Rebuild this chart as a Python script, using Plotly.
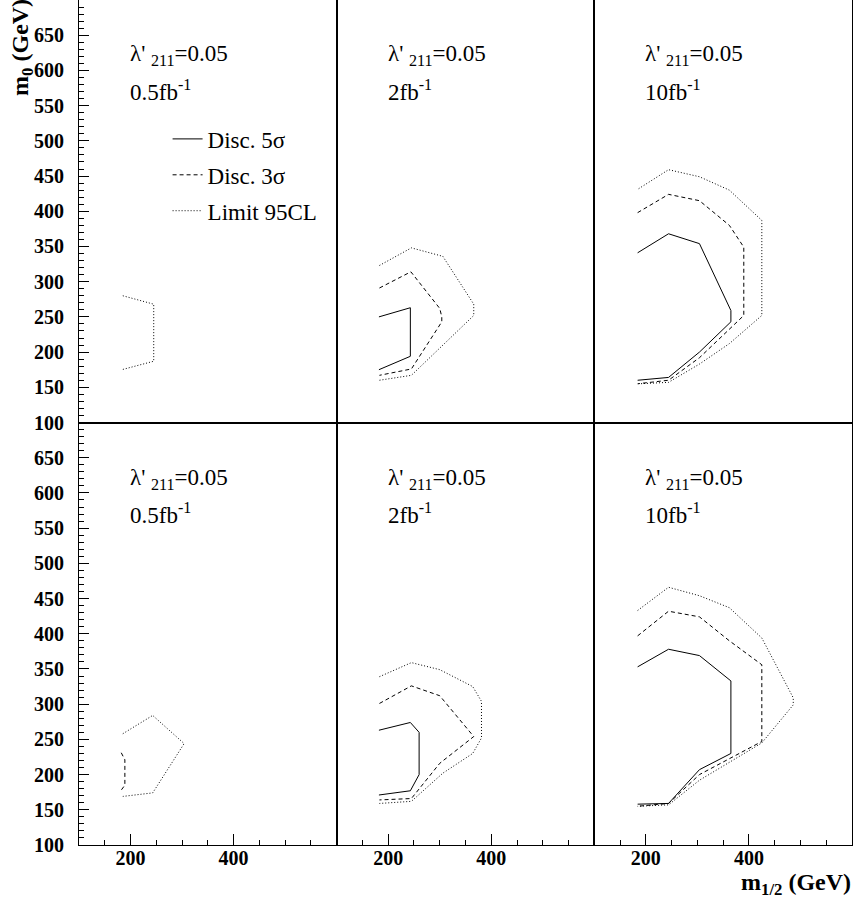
import plotly.graph_objects as go
from plotly.subplots import make_subplots

# ---------------- data (m_1/2, m_0) in GeV ----------------
# top row
t1_lim_x = [185, 245, 245, 183]
t1_lim_y = [280, 268, 187, 175]

t2_5s_x = [182, 243, 243, 182]
t2_5s_y = [250, 263, 194, 175]
t2_3s_x = [183, 244, 300, 304, 304, 245, 183]
t2_3s_y = [291, 314, 262, 250, 243, 176, 167]
t2_lim_x = [183, 245, 306, 366, 366, 245, 183]
t2_lim_y = [323, 348, 336, 268, 252, 167, 160]

t3_5s_x = [184, 244, 304, 365, 365, 304, 244, 184]
t3_5s_y = [341, 368, 354, 259, 243, 200, 164, 160]
t3_3s_x = [184, 244, 304, 362, 390, 390, 304, 244, 184]
t3_3s_y = [398, 424, 415, 380, 349, 252, 192, 160, 155]
t3_lim_x = [186, 244, 304, 362, 425, 425, 362, 304, 244, 186]
t3_lim_y = [432, 459, 449, 430, 387, 252, 212, 183, 157, 155]

# bottom row
b1_3s_x = [182, 189, 189, 182]
b1_3s_y = [231, 221, 185, 178]
b1_lim_x = [185, 243, 304, 243, 185]
b1_lim_y = [258, 284, 244, 174, 169]

b2_5s_x = [182, 243, 260, 260, 243, 182]
b2_5s_y = [263, 274, 260, 200, 177, 171]
b2_3s_x = [183, 245, 300, 366, 300, 245, 183]
b2_3s_y = [301, 326, 312, 254, 216, 166, 164]
b2_lim_x = [183, 245, 300, 364, 381, 381, 364, 306, 245, 183]
b2_lim_y = [339, 359, 349, 325, 304, 252, 230, 202, 162, 159]

b3_5s_x = [184, 244, 304, 365, 365, 304, 244, 184]
b3_5s_y = [353, 378, 369, 333, 230, 207, 159, 158]
b3_3s_x = [184, 244, 304, 362, 425, 425, 304, 244, 184]
b3_3s_y = [397, 432, 424, 390, 356, 247, 200, 159, 155]
b3_lim_x = [184, 244, 304, 362, 425, 486, 486, 425, 304, 244, 184]
b3_lim_y = [433, 466, 454, 437, 394, 309, 299, 245, 192, 157, 155]

lumi_labels = ["0.5fb<sup>-1</sup>", "2fb<sup>-1</sup>", "10fb<sup>-1</sup>"]
coupling_label = "λ' <sub>211</sub>=0.05"
series_names = ["Disc. 5σ", "Disc. 3σ", "Limit 95CL"]

y_ticks = [100, 150, 200, 250, 300, 350, 400, 450, 500, 550, 600, 650]
x_ticks = [200, 400]
x_minor = [150, 250, 300, 350, 450, 500, 550]

FONT = "Liberation Serif"
dash_styles = {"Disc. 5σ": "solid", "Disc. 3σ": "4px,3px", "Limit 95CL": "1px,2px"}

panels = {
    (1, 1): {"Limit 95CL": (t1_lim_x, t1_lim_y)},
    (1, 2): {"Disc. 5σ": (t2_5s_x, t2_5s_y), "Disc. 3σ": (t2_3s_x, t2_3s_y),
             "Limit 95CL": (t2_lim_x, t2_lim_y)},
    (1, 3): {"Disc. 5σ": (t3_5s_x, t3_5s_y), "Disc. 3σ": (t3_3s_x, t3_3s_y),
             "Limit 95CL": (t3_lim_x, t3_lim_y)},
    (2, 1): {"Disc. 3σ": (b1_3s_x, b1_3s_y), "Limit 95CL": (b1_lim_x, b1_lim_y)},
    (2, 2): {"Disc. 5σ": (b2_5s_x, b2_5s_y), "Disc. 3σ": (b2_3s_x, b2_3s_y),
             "Limit 95CL": (b2_lim_x, b2_lim_y)},
    (2, 3): {"Disc. 5σ": (b3_5s_x, b3_5s_y), "Disc. 3σ": (b3_3s_x, b3_3s_y),
             "Limit 95CL": (b3_lim_x, b3_lim_y)},
}

fig = make_subplots(rows=2, cols=3, horizontal_spacing=0, vertical_spacing=0)

# legend entries (shown in the top-left panel)
for i, name in enumerate(series_names):
    fig.add_trace(go.Scatter(x=[None], y=[None], mode="lines", name=name,
                             legendgroup=name,
                             line=dict(color="black", width=1, dash=dash_styles[name]),
                             showlegend=True), row=1, col=1)

for (r, c), series in panels.items():
    for name, (xs, ys) in series.items():
        fig.add_trace(go.Scatter(x=xs, y=ys, mode="lines", name=name,
                                 line=dict(color="black", width=1, dash=dash_styles[name]),
                                 showlegend=False, hoverinfo="skip"), row=r, col=c)

tickfont = dict(family=FONT, size=20, color="black", weight="bold")

for r in (1, 2):
    for c in (1, 2, 3):
        xa = dict(range=[100, 600], showline=True, mirror=True, linecolor="black",
                  linewidth=1.2, showgrid=False, zeroline=False, automargin=False)
        ya = dict(range=[100, 700], showline=True, mirror=True, linecolor="black",
                  linewidth=1.2, showgrid=False, zeroline=False, automargin=False)
        if r == 2:
            xa.update(tickmode="array", tickvals=x_ticks, ticks="inside", ticklen=11,
                      tickwidth=1, tickcolor="black", tickfont=tickfont,
                      ticklabelstandoff=-5,
                      minor=dict(tickmode="array", tickvals=x_minor, ticks="inside",
                                 ticklen=5, tickwidth=1, tickcolor="black"))
        else:
            xa.update(showticklabels=False, ticks="")
        if c == 1:
            ya.update(tickmode="array", tickvals=y_ticks, ticks="inside", ticklen=10,
                      tickwidth=1, tickcolor="black", tickfont=tickfont,
                      ticklabelstandoff=10,
                      minor=dict(dtick=10, tick0=100, ticks="inside", ticklen=5,
                                 tickwidth=1, tickcolor="black"))
        else:
            ya.update(showticklabels=False, ticks="")
        fig.update_xaxes(xa, row=r, col=c)
        fig.update_yaxes(ya, row=r, col=c)

# panel texts
for r in (1, 2):
    for c in (1, 2, 3):
        idx = (r - 1) * 3 + c
        xr = "x domain" if idx == 1 else f"x{idx} domain"
        yr = "y domain" if idx == 1 else f"y{idx} domain"
        y1 = 0.870 if r == 1 else 0.866
        y2 = 0.785 if r == 1 else 0.785
        fig.add_annotation(text=coupling_label, xref=xr, yref=yr, x=0.190, y=y1,
                           xanchor="left", yanchor="middle", showarrow=False,
                           font=dict(family=FONT, size=23, color="black"))
        fig.add_annotation(text=lumi_labels[c - 1], xref=xr, yref=yr, x=0.190, y=y2,
                           xanchor="left", yanchor="middle", showarrow=False,
                           font=dict(family=FONT, size=23, color="black"))

# axis titles
fig.add_annotation(text="<b>m<sub>0</sub> (GeV)</b>", xref="paper", yref="paper",
                   x=-0.074, y=1.004, xanchor="center", yanchor="top", textangle=-90,
                   showarrow=False, font=dict(family=FONT, size=24, color="black"))
fig.add_annotation(text="<b>m<sub>1/2</sub> (GeV)</b>", xref="paper", yref="paper",
                   x=1.001, y=-0.046, xanchor="right", yanchor="middle",
                   showarrow=False, font=dict(family=FONT, size=24, color="black"))

fig.update_layout(
    width=853, height=903,
    margin=dict(l=79, r=1, t=0, b=58),
    paper_bgcolor="white", plot_bgcolor="white",
    showlegend=True,
    legend=dict(x=0.1146, y=0.861, xanchor="left", yanchor="top",
                bgcolor="rgba(0,0,0,0)", borderwidth=0,
                font=dict(family=FONT, size=23, color="black"),
                traceorder="grouped", tracegroupgap=3, itemwidth=30),
)

fig.write_html("out.html", config={"displayModeBar": False},
               post_script="document.body.style.margin='0px';"
                           "document.body.style.overflow='hidden';")
